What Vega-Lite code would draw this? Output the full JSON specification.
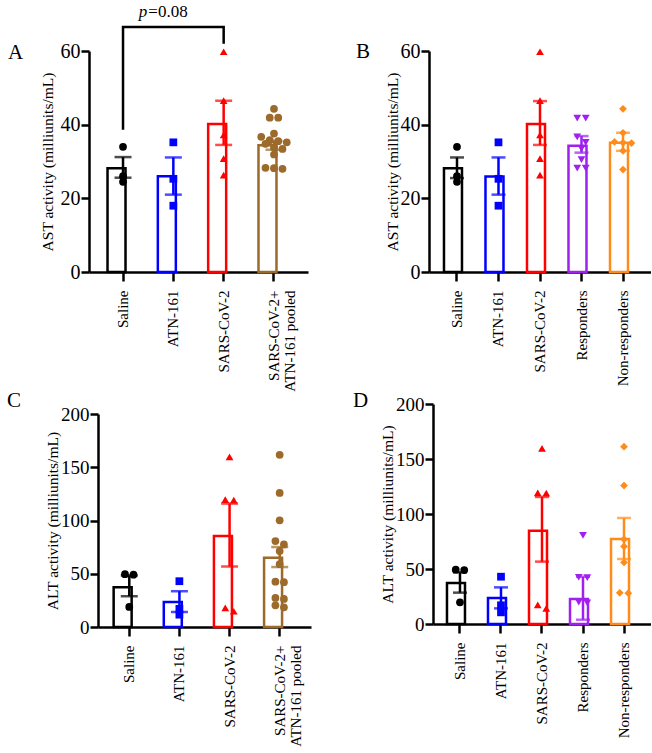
{
  "$schema": "https://vega.github.io/schema/vega-lite/v6.json",
  "background": "white",
  "padding": {"left": 7, "top": 3, "right": 0, "bottom": 0},
  "config": {
    "font": "Liberation Serif",
    "view": {"stroke": null},
    "axis": {"domainColor": "black", "domainWidth": 2.5, "tickColor": "black", "tickWidth": 2.5, "labelColor": "black", "titleColor": "black", "labelFont": "Liberation Serif", "titleFont": "Liberation Serif", "grid": false, "titleFontWeight": "normal"},
    "axisX": {"labelAngle": -90, "labelFontSize": 15, "labelPadding": 9, "tickSize": 9, "labelLineHeight": 16},
    "axisY": {"labelFontSize": 19, "labelPadding": 1, "tickSize": 8, "titleFontSize": 15.5},
    "title": {"font": "Liberation Serif", "fontWeight": "normal", "color": "black", "fontSize": 21, "anchor": "start", "frame": "group", "baseline": "alphabetic"}
  },
  "datasets": {
    "pts": [
      {"panel": "A", "group": "Saline", "value": 34},
      {"panel": "A", "group": "Saline", "value": 26},
      {"panel": "A", "group": "Saline", "value": 24.5},
      {"panel": "A", "group": "ATN-161", "value": 35.2},
      {"panel": "A", "group": "ATN-161", "value": 25.3},
      {"panel": "A", "group": "ATN-161", "value": 18},
      {"panel": "A", "group": "SARS-CoV-2", "value": 59.8},
      {"panel": "A", "group": "SARS-CoV-2", "value": 46.5},
      {"panel": "A", "group": "SARS-CoV-2", "value": 37.2},
      {"panel": "A", "group": "SARS-CoV-2", "value": 30.8},
      {"panel": "A", "group": "SARS-CoV-2", "value": 26.3},
      {"panel": "A", "group": "SARS-CoV-2+ ATN-161 pooled", "value": 44.3},
      {"panel": "A", "group": "SARS-CoV-2+ ATN-161 pooled", "value": 41.9},
      {"panel": "A", "group": "SARS-CoV-2+ ATN-161 pooled", "value": 41.9},
      {"panel": "A", "group": "SARS-CoV-2+ ATN-161 pooled", "value": 37.6},
      {"panel": "A", "group": "SARS-CoV-2+ ATN-161 pooled", "value": 36.7},
      {"panel": "A", "group": "SARS-CoV-2+ ATN-161 pooled", "value": 35.8},
      {"panel": "A", "group": "SARS-CoV-2+ ATN-161 pooled", "value": 35.5},
      {"panel": "A", "group": "SARS-CoV-2+ ATN-161 pooled", "value": 35.2},
      {"panel": "A", "group": "SARS-CoV-2+ ATN-161 pooled", "value": 34.8},
      {"panel": "A", "group": "SARS-CoV-2+ ATN-161 pooled", "value": 33.8},
      {"panel": "A", "group": "SARS-CoV-2+ ATN-161 pooled", "value": 33.4},
      {"panel": "A", "group": "SARS-CoV-2+ ATN-161 pooled", "value": 31.9},
      {"panel": "A", "group": "SARS-CoV-2+ ATN-161 pooled", "value": 28.3},
      {"panel": "A", "group": "SARS-CoV-2+ ATN-161 pooled", "value": 28.2},
      {"panel": "A", "group": "SARS-CoV-2+ ATN-161 pooled", "value": 28.0},
      {"panel": "B", "group": "Saline", "value": 34},
      {"panel": "B", "group": "Saline", "value": 26},
      {"panel": "B", "group": "Saline", "value": 24.5},
      {"panel": "B", "group": "ATN-161", "value": 35.2},
      {"panel": "B", "group": "ATN-161", "value": 25.3},
      {"panel": "B", "group": "ATN-161", "value": 18},
      {"panel": "B", "group": "SARS-CoV-2", "value": 59.8},
      {"panel": "B", "group": "SARS-CoV-2", "value": 46.5},
      {"panel": "B", "group": "SARS-CoV-2", "value": 37.2},
      {"panel": "B", "group": "SARS-CoV-2", "value": 30.8},
      {"panel": "B", "group": "SARS-CoV-2", "value": 26.3},
      {"panel": "B", "group": "Responders", "value": 41.8},
      {"panel": "B", "group": "Responders", "value": 41.8},
      {"panel": "B", "group": "Responders", "value": 36.7},
      {"panel": "B", "group": "Responders", "value": 35.2},
      {"panel": "B", "group": "Responders", "value": 33.5},
      {"panel": "B", "group": "Responders", "value": 30.5},
      {"panel": "B", "group": "Responders", "value": 28.2},
      {"panel": "B", "group": "Responders", "value": 28.2},
      {"panel": "B", "group": "Non-responders", "value": 44.3},
      {"panel": "B", "group": "Non-responders", "value": 37.8},
      {"panel": "B", "group": "Non-responders", "value": 35.3},
      {"panel": "B", "group": "Non-responders", "value": 35.1},
      {"panel": "B", "group": "Non-responders", "value": 35.0},
      {"panel": "B", "group": "Non-responders", "value": 32.9},
      {"panel": "B", "group": "Non-responders", "value": 27.8},
      {"panel": "C", "group": "Saline", "value": 49.6},
      {"panel": "C", "group": "Saline", "value": 49.1},
      {"panel": "C", "group": "Saline", "value": 18.8},
      {"panel": "C", "group": "ATN-161", "value": 43},
      {"panel": "C", "group": "ATN-161", "value": 17},
      {"panel": "C", "group": "ATN-161", "value": 11.6},
      {"panel": "C", "group": "SARS-CoV-2", "value": 159.8},
      {"panel": "C", "group": "SARS-CoV-2", "value": 119.6},
      {"panel": "C", "group": "SARS-CoV-2", "value": 119.2},
      {"panel": "C", "group": "SARS-CoV-2", "value": 17.9},
      {"panel": "C", "group": "SARS-CoV-2", "value": 14.8},
      {"panel": "C", "group": "SARS-CoV-2+ ATN-161 pooled", "value": 161.7},
      {"panel": "C", "group": "SARS-CoV-2+ ATN-161 pooled", "value": 125.9},
      {"panel": "C", "group": "SARS-CoV-2+ ATN-161 pooled", "value": 100.2},
      {"panel": "C", "group": "SARS-CoV-2+ ATN-161 pooled", "value": 80.7},
      {"panel": "C", "group": "SARS-CoV-2+ ATN-161 pooled", "value": 77.5},
      {"panel": "C", "group": "SARS-CoV-2+ ATN-161 pooled", "value": 71.3},
      {"panel": "C", "group": "SARS-CoV-2+ ATN-161 pooled", "value": 59},
      {"panel": "C", "group": "SARS-CoV-2+ ATN-161 pooled", "value": 42.5},
      {"panel": "C", "group": "SARS-CoV-2+ ATN-161 pooled", "value": 42.1},
      {"panel": "C", "group": "SARS-CoV-2+ ATN-161 pooled", "value": 27.3},
      {"panel": "C", "group": "SARS-CoV-2+ ATN-161 pooled", "value": 26.4},
      {"panel": "C", "group": "SARS-CoV-2+ ATN-161 pooled", "value": 20.4},
      {"panel": "C", "group": "SARS-CoV-2+ ATN-161 pooled", "value": 18.5},
      {"panel": "D", "group": "Saline", "value": 49.4},
      {"panel": "D", "group": "Saline", "value": 49.0},
      {"panel": "D", "group": "Saline", "value": 19.7},
      {"panel": "D", "group": "ATN-161", "value": 43},
      {"panel": "D", "group": "ATN-161", "value": 17},
      {"panel": "D", "group": "ATN-161", "value": 10.6},
      {"panel": "D", "group": "SARS-CoV-2", "value": 159.7},
      {"panel": "D", "group": "SARS-CoV-2", "value": 119.2},
      {"panel": "D", "group": "SARS-CoV-2", "value": 119.0},
      {"panel": "D", "group": "SARS-CoV-2", "value": 17.3},
      {"panel": "D", "group": "SARS-CoV-2", "value": 14.2},
      {"panel": "D", "group": "Responders", "value": 80.5},
      {"panel": "D", "group": "Responders", "value": 42.5},
      {"panel": "D", "group": "Responders", "value": 42.1},
      {"panel": "D", "group": "Responders", "value": 19.8},
      {"panel": "D", "group": "Responders", "value": 19.2},
      {"panel": "D", "group": "Non-responders", "value": 161.2},
      {"panel": "D", "group": "Non-responders", "value": 125.8},
      {"panel": "D", "group": "Non-responders", "value": 77},
      {"panel": "D", "group": "Non-responders", "value": 70.5},
      {"panel": "D", "group": "Non-responders", "value": 56},
      {"panel": "D", "group": "Non-responders", "value": 28.4},
      {"panel": "D", "group": "Non-responders", "value": 28.0}
    ],
    "bars": [
      {"panel": "A", "group": "Saline", "mean": 28.2, "lo": 25.6, "hi": 31.2},
      {"panel": "A", "group": "ATN-161", "mean": 26.0, "lo": 21.0, "hi": 31.1},
      {"panel": "A", "group": "SARS-CoV-2", "mean": 40.2, "lo": 34.5, "hi": 46.5},
      {"panel": "A", "group": "SARS-CoV-2+ ATN-161 pooled", "mean": 34.4, "lo": 33.2, "hi": 35.6},
      {"panel": "B", "group": "Saline", "mean": 28.2, "lo": 25.5, "hi": 31.1},
      {"panel": "B", "group": "ATN-161", "mean": 25.9, "lo": 21.0, "hi": 31.1},
      {"panel": "B", "group": "SARS-CoV-2", "mean": 40.2, "lo": 34.5, "hi": 46.4},
      {"panel": "B", "group": "Responders", "mean": 34.3, "lo": 32.4, "hi": 36.9},
      {"panel": "B", "group": "Non-responders", "mean": 35.1, "lo": 32.9, "hi": 37.8},
      {"panel": "C", "group": "Saline", "mean": 37.4, "lo": 28.9, "hi": 48.4},
      {"panel": "C", "group": "ATN-161", "mean": 23.5, "lo": 14.1, "hi": 33.6},
      {"panel": "C", "group": "SARS-CoV-2", "mean": 85.4, "lo": 56.8, "hi": 115.9},
      {"panel": "C", "group": "SARS-CoV-2+ ATN-161 pooled", "mean": 65.1, "lo": 56.3, "hi": 75.1},
      {"panel": "D", "group": "Saline", "mean": 37.3, "lo": 28.5, "hi": 47.0},
      {"panel": "D", "group": "ATN-161", "mean": 23.6, "lo": 14.2, "hi": 33.3},
      {"panel": "D", "group": "SARS-CoV-2", "mean": 84.8, "lo": 56.7, "hi": 115.5},
      {"panel": "D", "group": "Responders", "mean": 22.7, "lo": 3.9, "hi": 43.0},
      {"panel": "D", "group": "Non-responders", "mean": 77.3, "lo": 59.1, "hi": 96.4}
    ],
    "bracket": [
      {"group": "Saline", "y": 38.6, "step": 1},
      {"group": "Saline", "y": 66.5, "step": 2},
      {"group": "SARS-CoV-2", "y": 66.5, "step": 3},
      {"group": "SARS-CoV-2", "y": 62.0, "step": 4}
    ],
    "ann": [
      {"group": "ATN-161", "y": 69.2, "t": "p"},
      {"group": "ATN-161", "y": 69.2, "t": "=0.08"}
    ]
  },
  "vconcat": [
    {
      "hconcat": [
        {
          "width": 219, "height": 221,
          "title": {"text": "A", "dx": -81, "offset": -60},
          "layer": [
            {"data": {"name": "bars"}, "transform": [{"filter": "datum.panel == 'A'"}],
             "mark": {"type": "bar", "fill": "white", "strokeWidth": 2.5},
             "encoding": {
               "x": {"field": "group", "type": "nominal", "title": null, "scale": {"domain": ["Saline", "ATN-161", "SARS-CoV-2", "SARS-CoV-2+ ATN-161 pooled"], "paddingInner": 0.384, "paddingOuter": 0.368}, "axis": {"title": null, "labelExpr": "datum.label == 'SARS-CoV-2+ ATN-161 pooled' ? ['SARS-CoV-2+', 'ATN-161 pooled'] : datum.label"}},
               "y": {"field": "mean", "type": "quantitative", "title": "AST activity (milliunits/mL)", "scale": {"domain": [0, 60], "nice": false}, "axis": {"title": "AST activity (milliunits/mL)", "values": [0, 20, 40, 60], "labelFontSize": 20, "titlePadding": 5}},
               "stroke": {"field": "group", "type": "nominal", "scale": {"domain": ["Saline", "ATN-161", "SARS-CoV-2", "SARS-CoV-2+ ATN-161 pooled", "Responders", "Non-responders"], "range": ["#000000", "#0000FF", "#FF0000", "#9C6A2A", "#A020F0", "#FF8C1A"]}, "legend": null}
             }},
            {"data": {"name": "bars"}, "transform": [{"filter": "datum.panel == 'A'"}],
             "mark": {"type": "rule", "strokeWidth": 2.5},
             "encoding": {
               "x": {"field": "group", "type": "nominal", "title": null, "scale": {"domain": ["Saline", "ATN-161", "SARS-CoV-2", "SARS-CoV-2+ ATN-161 pooled"]}},
               "y": {"field": "lo", "type": "quantitative", "title": "AST activity (milliunits/mL)", "scale": {"domain": [0, 60], "nice": false}},
               "y2": {"field": "hi"},
               "color": {"field": "group", "type": "nominal", "scale": {"domain": ["Saline", "ATN-161", "SARS-CoV-2", "SARS-CoV-2+ ATN-161 pooled", "Responders", "Non-responders"], "range": ["#000000", "#0000FF", "#FF0000", "#9C6A2A", "#A020F0", "#FF8C1A"]}, "legend": null}
             }},
            {"data": {"name": "bars"}, "transform": [{"filter": "datum.panel == 'A'"}],
             "mark": {"type": "tick", "thickness": 2.5, "size": 17},
             "encoding": {
               "x": {"field": "group", "type": "nominal", "title": null, "scale": {"domain": ["Saline", "ATN-161", "SARS-CoV-2", "SARS-CoV-2+ ATN-161 pooled"]}},
               "y": {"field": "lo", "type": "quantitative", "title": "AST activity (milliunits/mL)", "scale": {"domain": [0, 60], "nice": false}},
               "color": {"field": "group", "type": "nominal", "legend": null}
             }},
            {"data": {"name": "bars"}, "transform": [{"filter": "datum.panel == 'A'"}],
             "mark": {"type": "tick", "thickness": 2.5, "size": 17},
             "encoding": {
               "x": {"field": "group", "type": "nominal", "title": null, "scale": {"domain": ["Saline", "ATN-161", "SARS-CoV-2", "SARS-CoV-2+ ATN-161 pooled"]}},
               "y": {"field": "hi", "type": "quantitative", "title": "AST activity (milliunits/mL)", "scale": {"domain": [0, 60], "nice": false}},
               "color": {"field": "group", "type": "nominal", "legend": null}
             }},
            {"data": {"name": "pts"},
             "transform": [
               {"filter": "datum.panel == 'A'"},
               {"calculate": "floor(datum.value / 2.5)", "as": "bin"},
               {"window": [{"op": "row_number", "as": "rn"}, {"op": "count", "as": "cnt"}], "groupby": ["group", "bin"], "frame": [null, null]},
               {"calculate": "datum.rn - (datum.cnt + 1) / 2", "as": "off"}
             ],
             "mark": {"type": "point", "filled": true, "opacity": 1, "size": 60},
             "encoding": {
               "x": {"field": "group", "type": "nominal", "title": null, "scale": {"domain": ["Saline", "ATN-161", "SARS-CoV-2", "SARS-CoV-2+ ATN-161 pooled"]}},
               "xOffset": {"field": "off", "type": "quantitative", "scale": {"domain": [-2, 2], "range": [-1.5, 32.5]}},
               "y": {"field": "value", "type": "quantitative", "title": "AST activity (milliunits/mL)", "scale": {"domain": [0, 60], "nice": false}},
               "color": {"field": "group", "type": "nominal", "legend": null},
               "shape": {"field": "group", "type": "nominal", "scale": {"domain": ["Saline", "ATN-161", "SARS-CoV-2", "SARS-CoV-2+ ATN-161 pooled", "Responders", "Non-responders"], "range": ["circle", "square", "triangle-up", "circle", "triangle-down", "diamond"]}, "legend": null}
             }},
            {"data": {"name": "bracket"},
             "mark": {"type": "line", "color": "black", "strokeWidth": 2.5},
             "encoding": {
               "x": {"field": "group", "type": "nominal", "title": null, "scale": {"domain": ["Saline", "ATN-161", "SARS-CoV-2", "SARS-CoV-2+ ATN-161 pooled"]}},
               "y": {"field": "y", "type": "quantitative", "title": "AST activity (milliunits/mL)", "scale": {"domain": [0, 60], "nice": false}},
               "order": {"field": "step", "type": "quantitative"}
             }},
            {"data": {"name": "ann"}, "transform": [{"filter": "datum.t == 'p'"}],
             "mark": {"type": "text", "fontStyle": "italic", "fontSize": 17, "align": "right", "baseline": "alphabetic", "dx": -26, "color": "black", "font": "Liberation Serif"},
             "encoding": {
               "x": {"field": "group", "type": "nominal", "title": null, "scale": {"domain": ["Saline", "ATN-161", "SARS-CoV-2", "SARS-CoV-2+ ATN-161 pooled"]}},
               "y": {"field": "y", "type": "quantitative", "title": "AST activity (milliunits/mL)", "scale": {"domain": [0, 60], "nice": false}},
               "text": {"field": "t"}
             }},
            {"data": {"name": "ann"}, "transform": [{"filter": "datum.t != 'p'"}],
             "mark": {"type": "text", "fontSize": 17, "align": "left", "baseline": "alphabetic", "dx": -25, "color": "black", "font": "Liberation Serif"},
             "encoding": {
               "x": {"field": "group", "type": "nominal", "title": null, "scale": {"domain": ["Saline", "ATN-161", "SARS-CoV-2", "SARS-CoV-2+ ATN-161 pooled"]}},
               "y": {"field": "y", "type": "quantitative", "title": "AST activity (milliunits/mL)", "scale": {"domain": [0, 60], "nice": false}},
               "text": {"field": "t"}
             }}
          ]
        },
        {
          "width": 222, "height": 221,
          "title": {"text": "B", "dx": -73, "offset": -21},
          "layer": [
            {"data": {"name": "bars"}, "transform": [{"filter": "datum.panel == 'B'"}],
             "mark": {"type": "bar", "fill": "white", "strokeWidth": 2.5},
             "encoding": {
               "x": {"field": "group", "type": "nominal", "title": null, "scale": {"domain": ["Saline", "ATN-161", "SARS-CoV-2", "Responders", "Non-responders"], "paddingInner": 0.373, "paddingOuter": 0.361}, "axis": {"title": null}},
               "y": {"field": "mean", "type": "quantitative", "title": "AST activity (milliunits/mL)", "scale": {"domain": [0, 60], "nice": false}, "axis": {"title": "AST activity (milliunits/mL)", "values": [0, 20, 40, 60], "labelFontSize": 20, "titlePadding": 0}},
               "stroke": {"field": "group", "type": "nominal", "legend": null}
             }},
            {"data": {"name": "bars"}, "transform": [{"filter": "datum.panel == 'B'"}],
             "mark": {"type": "rule", "strokeWidth": 2.5},
             "encoding": {
               "x": {"field": "group", "type": "nominal", "title": null, "scale": {"domain": ["Saline", "ATN-161", "SARS-CoV-2", "Responders", "Non-responders"]}},
               "y": {"field": "lo", "type": "quantitative", "title": "AST activity (milliunits/mL)", "scale": {"domain": [0, 60], "nice": false}},
               "y2": {"field": "hi"},
               "color": {"field": "group", "type": "nominal", "legend": null}
             }},
            {"data": {"name": "bars"}, "transform": [{"filter": "datum.panel == 'B'"}],
             "mark": {"type": "tick", "thickness": 2.5, "size": 14},
             "encoding": {
               "x": {"field": "group", "type": "nominal", "title": null, "scale": {"domain": ["Saline", "ATN-161", "SARS-CoV-2", "Responders", "Non-responders"]}},
               "y": {"field": "lo", "type": "quantitative", "title": "AST activity (milliunits/mL)", "scale": {"domain": [0, 60], "nice": false}},
               "color": {"field": "group", "type": "nominal", "legend": null}
             }},
            {"data": {"name": "bars"}, "transform": [{"filter": "datum.panel == 'B'"}],
             "mark": {"type": "tick", "thickness": 2.5, "size": 14},
             "encoding": {
               "x": {"field": "group", "type": "nominal", "title": null, "scale": {"domain": ["Saline", "ATN-161", "SARS-CoV-2", "Responders", "Non-responders"]}},
               "y": {"field": "hi", "type": "quantitative", "title": "AST activity (milliunits/mL)", "scale": {"domain": [0, 60], "nice": false}},
               "color": {"field": "group", "type": "nominal", "legend": null}
             }},
            {"data": {"name": "pts"},
             "transform": [
               {"filter": "datum.panel == 'B'"},
               {"calculate": "floor(datum.value / 2.5)", "as": "bin"},
               {"window": [{"op": "row_number", "as": "rn"}, {"op": "count", "as": "cnt"}], "groupby": ["group", "bin"], "frame": [null, null]},
               {"calculate": "datum.rn - (datum.cnt + 1) / 2", "as": "off"}
             ],
             "mark": {"type": "point", "filled": true, "opacity": 1, "size": 60},
             "encoding": {
               "x": {"field": "group", "type": "nominal", "title": null, "scale": {"domain": ["Saline", "ATN-161", "SARS-CoV-2", "Responders", "Non-responders"]}},
               "xOffset": {"field": "off", "type": "quantitative", "scale": {"domain": [-2, 2], "range": [-4, 30]}},
               "y": {"field": "value", "type": "quantitative", "title": "AST activity (milliunits/mL)", "scale": {"domain": [0, 60], "nice": false}},
               "color": {"field": "group", "type": "nominal", "legend": null},
               "shape": {"field": "group", "type": "nominal", "legend": null}
             }}
          ]
        }
      ],
      "spacing": 121, "bounds": "flush", "align": "each",
      "resolve": {"scale": {"x": "independent", "y": "independent", "xOffset": "independent"}}
    },
    {
      "hconcat": [
        {"width": 9, "height": 1, "data": {"values": [{}]}, "mark": {"type": "point", "opacity": 0}},
        {
          "hconcat": [
            {
              "vconcat": [
                {"width": 1, "height": 10, "data": {"values": [{}]}, "mark": {"type": "point", "opacity": 0}},
                {
                  "width": 213, "height": 213,
                  "title": {"text": "C", "dx": -91, "offset": -6},
                  "layer": [
                    {"data": {"name": "bars"}, "transform": [{"filter": "datum.panel == 'C'"}],
                     "mark": {"type": "bar", "fill": "white", "strokeWidth": 2.5},
                     "encoding": {
                       "x": {"field": "group", "type": "nominal", "title": null, "scale": {"domain": ["Saline", "ATN-161", "SARS-CoV-2", "SARS-CoV-2+ ATN-161 pooled"], "paddingInner": 0.376, "paddingOuter": 0.312}, "axis": {"title": null, "labelExpr": "datum.label == 'SARS-CoV-2+ ATN-161 pooled' ? ['SARS-CoV-2+', 'ATN-161 pooled'] : datum.label"}},
                       "y": {"field": "mean", "type": "quantitative", "title": "ALT activity (milliunits/mL)", "scale": {"domain": [0, 200], "nice": false}, "axis": {"title": "ALT activity (milliunits/mL)", "values": [0, 50, 100, 150, 200], "labelFontSize": 19, "titlePadding": 0}},
                       "stroke": {"field": "group", "type": "nominal", "legend": null}
                     }},
                    {"data": {"name": "bars"}, "transform": [{"filter": "datum.panel == 'C'"}],
                     "mark": {"type": "rule", "strokeWidth": 2.5},
                     "encoding": {
                       "x": {"field": "group", "type": "nominal", "title": null, "scale": {"domain": ["Saline", "ATN-161", "SARS-CoV-2", "SARS-CoV-2+ ATN-161 pooled"]}},
                       "y": {"field": "lo", "type": "quantitative", "title": "ALT activity (milliunits/mL)", "scale": {"domain": [0, 200], "nice": false}},
                       "y2": {"field": "hi"},
                       "color": {"field": "group", "type": "nominal", "legend": null}
                     }},
                    {"data": {"name": "bars"}, "transform": [{"filter": "datum.panel == 'C'"}],
                     "mark": {"type": "tick", "thickness": 2.5, "size": 17},
                     "encoding": {
                       "x": {"field": "group", "type": "nominal", "title": null, "scale": {"domain": ["Saline", "ATN-161", "SARS-CoV-2", "SARS-CoV-2+ ATN-161 pooled"]}},
                       "y": {"field": "lo", "type": "quantitative", "title": "ALT activity (milliunits/mL)", "scale": {"domain": [0, 200], "nice": false}},
                       "color": {"field": "group", "type": "nominal", "legend": null}
                     }},
                    {"data": {"name": "bars"}, "transform": [{"filter": "datum.panel == 'C'"}],
                     "mark": {"type": "tick", "thickness": 2.5, "size": 17},
                     "encoding": {
                       "x": {"field": "group", "type": "nominal", "title": null, "scale": {"domain": ["Saline", "ATN-161", "SARS-CoV-2", "SARS-CoV-2+ ATN-161 pooled"]}},
                       "y": {"field": "hi", "type": "quantitative", "title": "ALT activity (milliunits/mL)", "scale": {"domain": [0, 200], "nice": false}},
                       "color": {"field": "group", "type": "nominal", "legend": null}
                     }},
                    {"data": {"name": "pts"},
                     "transform": [
                       {"filter": "datum.panel == 'C'"},
                       {"calculate": "floor(datum.value / 7)", "as": "bin"},
                       {"window": [{"op": "row_number", "as": "rn"}, {"op": "count", "as": "cnt"}], "groupby": ["group", "bin"], "frame": [null, null]},
                       {"calculate": "datum.rn - (datum.cnt + 1) / 2", "as": "off"}
                     ],
                     "mark": {"type": "point", "filled": true, "opacity": 1, "size": 60},
                     "encoding": {
                       "x": {"field": "group", "type": "nominal", "title": null, "scale": {"domain": ["Saline", "ATN-161", "SARS-CoV-2", "SARS-CoV-2+ ATN-161 pooled"]}},
                       "xOffset": {"field": "off", "type": "quantitative", "scale": {"domain": [-2, 2], "range": [-1.4, 32.6]}},
                       "y": {"field": "value", "type": "quantitative", "title": "ALT activity (milliunits/mL)", "scale": {"domain": [0, 200], "nice": false}},
                       "color": {"field": "group", "type": "nominal", "legend": null},
                       "shape": {"field": "group", "type": "nominal", "legend": null}
                     }}
                  ]
                }
              ],
              "spacing": 0, "bounds": "flush", "align": "each"
            },
            {
              "width": 218, "height": 220,
              "title": {"text": "D", "dx": -80, "offset": -16},
              "layer": [
                {"data": {"name": "bars"}, "transform": [{"filter": "datum.panel == 'D'"}],
                 "mark": {"type": "bar", "fill": "white", "strokeWidth": 2.5},
                 "encoding": {
                   "x": {"field": "group", "type": "nominal", "title": null, "scale": {"domain": ["Saline", "ATN-161", "SARS-CoV-2", "Responders", "Non-responders"], "paddingInner": 0.366, "paddingOuter": 0.341}, "axis": {"title": null}},
                   "y": {"field": "mean", "type": "quantitative", "title": "ALT activity (milliunits/mL)", "scale": {"domain": [0, 200], "nice": false}, "axis": {"title": "ALT activity (milliunits/mL)", "values": [0, 50, 100, 150, 200], "labelFontSize": 19, "titlePadding": 0}},
                   "stroke": {"field": "group", "type": "nominal", "legend": null}
                 }},
                {"data": {"name": "bars"}, "transform": [{"filter": "datum.panel == 'D'"}],
                 "mark": {"type": "rule", "strokeWidth": 2.5},
                 "encoding": {
                   "x": {"field": "group", "type": "nominal", "title": null, "scale": {"domain": ["Saline", "ATN-161", "SARS-CoV-2", "Responders", "Non-responders"]}},
                   "y": {"field": "lo", "type": "quantitative", "title": "ALT activity (milliunits/mL)", "scale": {"domain": [0, 200], "nice": false}},
                   "y2": {"field": "hi"},
                   "color": {"field": "group", "type": "nominal", "legend": null}
                 }},
                {"data": {"name": "bars"}, "transform": [{"filter": "datum.panel == 'D'"}],
                 "mark": {"type": "tick", "thickness": 2.5, "size": 14},
                 "encoding": {
                   "x": {"field": "group", "type": "nominal", "title": null, "scale": {"domain": ["Saline", "ATN-161", "SARS-CoV-2", "Responders", "Non-responders"]}},
                   "y": {"field": "lo", "type": "quantitative", "title": "ALT activity (milliunits/mL)", "scale": {"domain": [0, 200], "nice": false}},
                   "color": {"field": "group", "type": "nominal", "legend": null}
                 }},
                {"data": {"name": "bars"}, "transform": [{"filter": "datum.panel == 'D'"}],
                 "mark": {"type": "tick", "thickness": 2.5, "size": 14},
                 "encoding": {
                   "x": {"field": "group", "type": "nominal", "title": null, "scale": {"domain": ["Saline", "ATN-161", "SARS-CoV-2", "Responders", "Non-responders"]}},
                   "y": {"field": "hi", "type": "quantitative", "title": "ALT activity (milliunits/mL)", "scale": {"domain": [0, 200], "nice": false}},
                   "color": {"field": "group", "type": "nominal", "legend": null}
                 }},
                {"data": {"name": "pts"},
                 "transform": [
                   {"filter": "datum.panel == 'D'"},
                   {"calculate": "floor(datum.value / 7)", "as": "bin"},
                   {"window": [{"op": "row_number", "as": "rn"}, {"op": "count", "as": "cnt"}], "groupby": ["group", "bin"], "frame": [null, null]},
                   {"calculate": "datum.rn - (datum.cnt + 1) / 2", "as": "off"}
                 ],
                 "mark": {"type": "point", "filled": true, "opacity": 1, "size": 60},
                 "encoding": {
                   "x": {"field": "group", "type": "nominal", "title": null, "scale": {"domain": ["Saline", "ATN-161", "SARS-CoV-2", "Responders", "Non-responders"]}},
                   "xOffset": {"field": "off", "type": "quantitative", "scale": {"domain": [-2, 2], "range": [-4, 30]}},
                   "y": {"field": "value", "type": "quantitative", "title": "ALT activity (milliunits/mL)", "scale": {"domain": [0, 200], "nice": false}},
                   "color": {"field": "group", "type": "nominal", "legend": null},
                   "shape": {"field": "group", "type": "nominal", "legend": null}
                 }}
              ]
            }
          ],
          "spacing": 335, "bounds": "flush", "align": "each",
          "resolve": {"scale": {"x": "independent", "y": "independent", "xOffset": "independent"}}
        }
      ],
      "spacing": 0, "bounds": "flush", "align": "each",
      "resolve": {"scale": {"x": "independent", "y": "independent", "xOffset": "independent"}}
    }
  ],
  "spacing": 353, "bounds": "flush", "align": "each",
  "resolve": {"scale": {"x": "independent", "y": "independent", "xOffset": "independent"}}
}
